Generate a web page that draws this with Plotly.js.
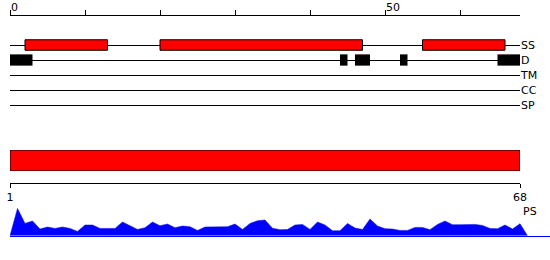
<!DOCTYPE html>
<html>
<head>
<meta charset="utf-8">
<script src="https://cdn.plot.ly/plotly-3.0.1.min.js"></script>
<style>html,body{margin:0;padding:0;background:#fff}#chart{width:550px;height:260px}</style>
</head>
<body>
<div id="chart"></div>
<script>
// ---- data ----
const seqLen = 68;
const tracks = ['SS', 'D', 'TM', 'CC', 'SP'];
const ssStart = [2, 20, 55];
const ssEnd = [13, 47, 66];
const dStart = [0, 44, 46, 52, 65];
const dEnd = [3, 45, 48, 53, 68];
const topTickVals = [0, 10, 20, 30, 40, 50, 60];
const topTickText = ['0', '', '', '', '', '50', ''];
const domainStart = [1];
const domainEnd = [68];
const domainTickVals = [1, 68];
const psValues = [27.3, 12.3, 14.7, 6.7, 8.7, 7.3, 8.7, 7.3, 4.3, 10.7,
  10.7, 7.3, 7.3, 7.3, 13.7, 10, 6.3, 8, 13.7, 10,
  11.7, 8, 9.7, 9, 5.3, 8.7, 8.7, 9.3, 9, 11.7,
  6.3, 12.3, 15, 15.7, 7.5, 6, 6.3, 10.7, 11.3, 6.3,
  13.7, 10.7, 5, 5, 12.3, 7.7, 6.3, 16.7, 9.7, 7,
  6.7, 5.3, 5.3, 8.3, 8.3, 6, 11.3, 14.7, 11, 11,
  11, 11.3, 10.3, 7.3, 7, 10.7, 6.7, 12];
const psLabel = 'PS';

// ---- layout helpers (pixel -> paper) ----
const W = 550, H = 260;
const px = v => v / W;
const py = v => 1 - v / H;
const FONT = {family: 'DejaVu Sans', size: 11, color: '#000'};

const traces = [];
// SS boxes
traces.push({
  type: 'bar', orientation: 'h', xaxis: 'x', yaxis: 'y',
  y: ssStart.map(() => 'SS'), base: ssStart, x: ssStart.map((s, i) => ssEnd[i] - s),
  width: 0.7, marker: {color: '#ff0000', line: {color: '#000', width: 1}},
  hoverinfo: 'skip'
});
// D boxes
traces.push({
  type: 'bar', orientation: 'h', xaxis: 'x', yaxis: 'y',
  y: dStart.map(() => 'D'), base: dStart, x: dStart.map((s, i) => dEnd[i] - s),
  width: 0.75, marker: {color: '#000', line: {width: 0}},
  hoverinfo: 'skip'
});
// domain bar
traces.push({
  type: 'bar', orientation: 'h', xaxis: 'x2', yaxis: 'y2',
  y: [0], base: domainStart, x: domainStart.map((s, i) => domainEnd[i] - s),
  width: 1, marker: {color: '#ff0000', line: {color: '#000', width: 1}},
  hoverinfo: 'skip'
});
// PS area
const psX = [0].concat(psValues.map((v, i) => i + 1), [psValues.length + 1]);
const psY = [0].concat(psValues, [0]);
traces.push({
  type: 'scatter', mode: 'lines', xaxis: 'x3', yaxis: 'y3',
  x: psX, y: psY, fill: 'tozeroy', fillcolor: '#0000ff',
  line: {color: '#0000ff', width: 0.5}, hoverinfo: 'skip'
});

const layout = {
  width: W, height: H,
  margin: {l: 0, r: 0, t: 0, b: 0},
  paper_bgcolor: '#fff', plot_bgcolor: 'rgba(0,0,0,0)',
  showlegend: false, barmode: 'overlay',
  font: FONT,
  xaxis: {
    domain: [px(10), px(520)], range: [0, seqLen],
    anchor: 'free', position: py(15), side: 'top',
    showline: true, linecolor: '#000', linewidth: 1,
    ticks: 'outside', ticklen: 5, tickcolor: '#000', tickwidth: 1,
    tickmode: 'array', tickvals: topTickVals, ticktext: topTickText,
    ticklabelposition: 'outside right',
    showgrid: false, zeroline: false, fixedrange: true, tickfont: FONT
  },
  yaxis: {
    domain: [py(120), py(30)], type: 'category',
    categoryorder: 'array', categoryarray: tracks,
    range: [5, -1],
    anchor: 'free', position: px(520), side: 'right',
    showline: false, ticks: '', showgrid: true, gridcolor: '#000', gridwidth: 1,
    zeroline: false, fixedrange: true, tickfont: FONT
  },
  xaxis2: {
    domain: [px(10), px(520)], range: [1, seqLen],
    anchor: 'free', position: py(183),
    showline: true, linecolor: '#000', linewidth: 1,
    ticks: 'outside', ticklen: 4, tickcolor: '#000',
    tickmode: 'array', tickvals: domainTickVals,
    showgrid: false, zeroline: false, fixedrange: true, tickfont: FONT
  },
  yaxis2: {
    domain: [py(171), py(150)], range: [-0.5, 0.5],
    anchor: 'free', position: 0,
    visible: false, fixedrange: true
  },
  xaxis3: {
    domain: [px(10), 1], range: [0, 72],
    anchor: 'y3', showline: true, linecolor: '#0000ff', linewidth: 1,
    ticks: '', showticklabels: false, showgrid: false, zeroline: false, fixedrange: true
  },
  yaxis3: {
    domain: [py(235.7), py(205.7)], range: [0, 30],
    anchor: 'free', position: 0,
    visible: false, fixedrange: true
  },
  annotations: [{
    xref: 'paper', yref: 'paper', x: px(521), y: py(211),
    xanchor: 'left', yanchor: 'middle', text: psLabel, showarrow: false, font: FONT
  }]
};

Plotly.newPlot('chart', traces, layout, {staticPlot: true, displayModeBar: false});
</script>
</body>
</html>
